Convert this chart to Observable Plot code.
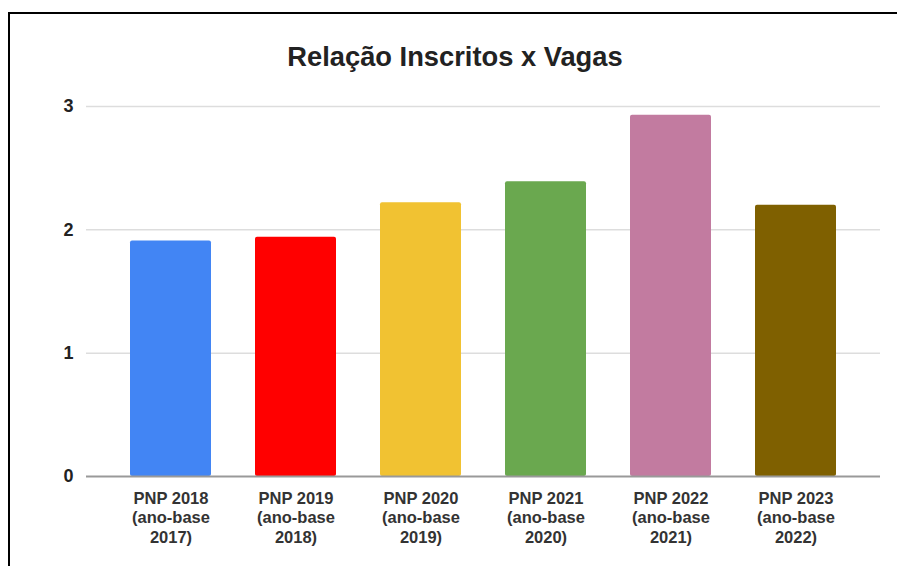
<!DOCTYPE html>
<html>
<head>
<meta charset="utf-8">
<script src="https://cdn.jsdelivr.net/npm/d3@7"></script>
<script src="https://cdn.jsdelivr.net/npm/@observablehq/plot@0.6"></script>
<style>
  html, body { margin: 0; padding: 0; background: #fff; }
  body { width: 897px; height: 566px; position: relative; overflow: hidden; font-family: "Liberation Sans", Arial, sans-serif; }
  #frame { position: absolute; left: 8px; top: 12px; width: 950px; height: 700px; border-left: 2px solid #000; border-top: 2px solid #000; }
  #title { position: absolute; left: 0; width: 910px; top: 41px; text-align: center; font-family: "Liberation Sans", Arial, sans-serif; font-size: 27.3px; font-weight: bold; color: #222; line-height: 32px; }
  #chart { position: absolute; left: 0; top: 80px; }
</style>
</head>
<body>
<div id="frame"></div>
<div id="title">Relação Inscritos x Vagas</div>
<div id="chart"></div>
<script>
const categories = [
  "PNP 2018\n(ano-base\n2017)",
  "PNP 2019\n(ano-base\n2018)",
  "PNP 2020\n(ano-base\n2019)",
  "PNP 2021\n(ano-base\n2020)",
  "PNP 2022\n(ano-base\n2021)",
  "PNP 2023\n(ano-base\n2022)"
];
const values = [1.91, 1.94, 2.22, 2.39, 2.93, 2.20];
const colors = ["#4285f4", "#ff0000", "#f1c232", "#6aa84f", "#c27ba0", "#7f6000"];
const yTicks = [0, 1, 2, 3];

const data = categories.map((c, i) => ({cat: c, value: values[i], color: colors[i]}));

const chart = Plot.plot({
  width: 897,
  height: 486,
  marginLeft: 86,
  marginRight: 17,
  marginTop: 26,
  marginBottom: 90,
  style: { fontFamily: "'Liberation Sans', Arial, sans-serif", background: "transparent" },
  x: { domain: categories, padding: 0.35, label: null },
  y: { domain: [0, 3], label: null },
  marks: [
    Plot.ruleY(yTicks.filter(d => d > 0), { stroke: "#dddddd", strokeWidth: 1.5 }),
    Plot.barY(data, { x: "cat", y: "value", fill: "color", rx: 2 }),
    Plot.ruleY([0], { stroke: "#999999", strokeWidth: 2 }),
    Plot.axisY(yTicks, { tickSize: 0, tickPadding: 13, fontSize: 18, fontWeight: "bold", fill: "#222", tickFormat: d => String(d) }),
    Plot.axisX({ tickSize: 0, tickPadding: 13, fontSize: 16.5, fontWeight: "bold", fill: "#333", lineHeight: 1.2 })
  ]
});
document.getElementById("chart").appendChild(chart);
</script>
</body>
</html>
